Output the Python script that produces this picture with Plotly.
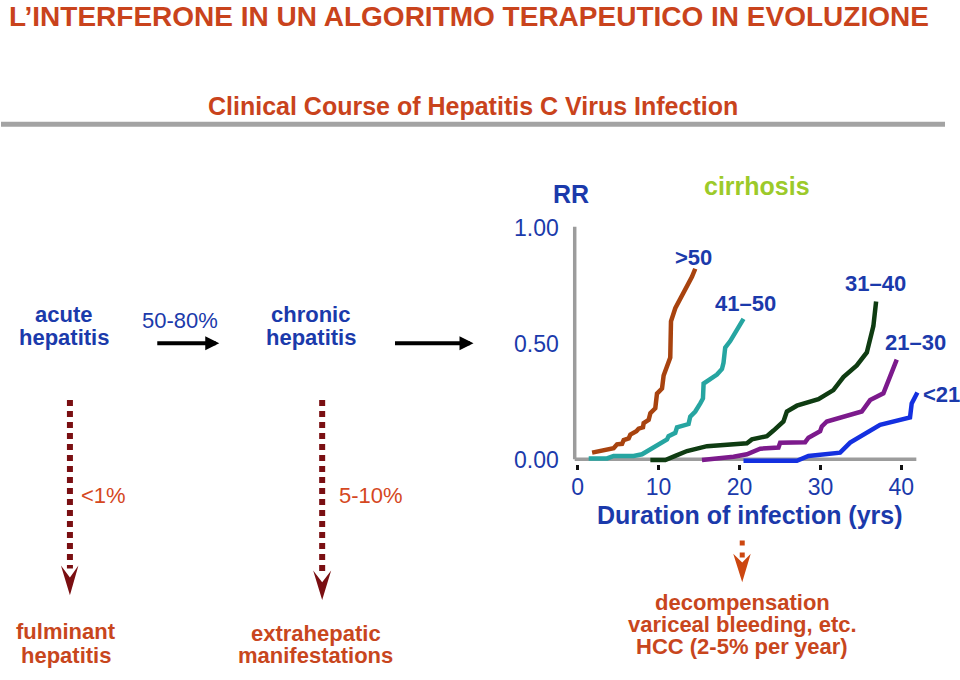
import plotly.graph_objects as go

W, H = 960, 680

# ---------------- data ----------------
year_ticks = [0, 10, 20, 30, 40]
rr_ticks = [0.0, 0.5, 1.0]
rr_tick_text = ["0.00", "0.50", "1.00"]

gt50_years = [1.78, 4.44, 4.86, 5.48, 5.68, 6.30, 6.51, 7.25, 7.53, 8.07, 8.15, 8.77, 8.98, 9.59, 9.80,
              10.42, 10.62, 10.95, 11.44, 11.53, 12.06, 14.12, 14.53]
gt50_rr = [0.028, 0.047, 0.064, 0.066, 0.082, 0.089, 0.106, 0.120, 0.131, 0.137, 0.155, 0.169, 0.198, 0.219,
           0.282, 0.304, 0.360, 0.388, 0.437, 0.593, 0.649, 0.784, 0.819]

a41_50_years = [1.36, 3.63, 4.44, 6.91, 7.95, 8.64, 9.19, 10.21, 11.04, 11.23, 12.06, 12.27, 13.70, 13.91,
                14.53, 15.15, 15.48, 15.56, 16.59, 17.21, 17.83, 18.02, 18.23, 18.85, 20.49]
a41_50_rr = [0.003, 0.003, 0.014, 0.014, 0.021, 0.035, 0.049, 0.071, 0.085, 0.099, 0.113, 0.137, 0.151, 0.183,
             0.205, 0.240, 0.261, 0.325, 0.353, 0.364, 0.388, 0.414, 0.480, 0.508, 0.603]

a31_40_years = [8.98, 10.83, 12.06, 13.51, 15.98, 18.44, 20.91, 21.53, 23.38, 24.20, 25.43, 25.85, 27.09,
                29.75, 31.60, 32.84, 34.49, 35.73, 36.54, 36.88]
a31_40_rr = [-0.004, -0.004, 0.014, 0.035, 0.056, 0.064, 0.068, 0.085, 0.099, 0.123, 0.162, 0.205, 0.230,
             0.258, 0.297, 0.353, 0.403, 0.459, 0.572, 0.678]

a21_30_years = [15.36, 19.26, 20.91, 22.56, 24.81, 25.02, 28.11, 28.52, 29.96, 30.17, 30.79, 35.11, 36.14,
                37.78, 39.43]
a21_30_rr = [-0.004, 0.010, 0.021, 0.045, 0.050, 0.071, 0.073, 0.092, 0.120, 0.141, 0.162, 0.205, 0.254,
             0.283, 0.428]

lt21_years = [20.49, 27.09, 28.52, 32.43, 33.67, 37.37, 41.07, 41.28, 41.98]
lt21_rr = [-0.007, -0.007, 0.014, 0.028, 0.071, 0.148, 0.179, 0.240, 0.287]

series_names = [">50", "41–50", "31–40", "21–30", "<21"]
series_years = [gt50_years, a41_50_years, a31_40_years, a21_30_years, lt21_years]
series_rr = [gt50_rr, a41_50_rr, a31_40_rr, a21_30_rr, lt21_rr]
series_colors = ["#a8430f", "#26a5a1", "#0f3c12", "#7c1a8c", "#1430e0"]

# ---------------- styling helpers ----------------
FONT = "Liberation Sans, Arial, Helvetica, sans-serif"
BLUE = "#1b3aab"
TITLE_RED = "#c9431c"
ORANGE_TXT = "#c8461d"
PCT_RED = "#d5481f"
DARK_RED = "#7a0f12"
ARROW_ORANGE = "#cc4710"
GREEN_Y = "#9cca2a"
GRAY = "#9c9c9c"


def fx(px):
    return px / W


def fy(py):
    return 1 - py / H


def path(points):
    return "M " + " L ".join(f"{fx(x):.5f},{fy(y):.5f}" for x, y in points) + " Z"


fig = go.Figure()

for name, xs, ys, col in zip(series_names, series_years, series_rr, series_colors):
    fig.add_trace(go.Scatter(x=xs, y=ys, mode="lines", name=name,
                             line=dict(color=col, width=4.5), hoverinfo="skip"))

# main chart axes (pixel mapping: x = 577.3 + 8.1*yr, y = 465 - 236*rr)
x_lo, x_hi = (572 - 577.3) / 8.1, (922 - 577.3) / 8.1
y_lo, y_hi = (465 - 470) / 236, (465 - 218) / 236

fig.update_layout(
    width=W, height=H,
    margin=dict(l=0, r=0, t=0, b=0),
    paper_bgcolor="white", plot_bgcolor="rgba(0,0,0,0)",
    showlegend=False,
    font=dict(family=FONT),
    xaxis=dict(domain=[fx(572), fx(922)], range=[x_lo, x_hi], showgrid=False, zeroline=False,
               showline=False, tickvals=year_ticks, ticks="outside", ticklen=5, tickwidth=3,
               tickcolor="#111", tickfont=dict(size=23, color=BLUE, family=FONT),
               ticklabelstandoff=-3, fixedrange=True),
    yaxis=dict(domain=[fy(470), fy(218)], range=[y_lo, y_hi], showgrid=False, zeroline=False,
               showline=False, tickvals=rr_ticks, ticktext=rr_tick_text, ticks="outside", ticklen=8,
               tickcolor="rgba(0,0,0,0)", tickfont=dict(size=23, color=BLUE, family=FONT),
               ticklabelshift=1, fixedrange=True),
)

shapes = []
# axis lines of the small chart
shapes.append(dict(type="line", xref="x", yref="y", x0=(574.3 - 577.3) / 8.1, x1=(574.3 - 577.3) / 8.1,
                   y0=0, y1=1.0, line=dict(color=GRAY, width=3.5), layer="below"))
shapes.append(dict(type="line", xref="x", yref="y", x0=(574.3 - 577.3) / 8.1, x1=41.85,
                   y0=0, y1=0, line=dict(color=GRAY, width=3.5), layer="below"))
# header rule
shapes.append(dict(type="line", xref="paper", yref="paper", x0=fx(0), x1=fx(945), y0=fy(125), y1=fy(125),
                   line=dict(color="#a3a3a3", width=5)))
# dotted dark red arrows
for cx, y0, y1, head in [(69, 405, 576, [(60, 573), (69, 585), (77.5, 573), (69, 603)]),
                         (321.5, 405, 581, [(312.5, 578), (321.5, 590), (330.5, 578), (321.5, 608)])]:
    shapes.append(dict(type="line", xref="paper", yref="paper", x0=fx(cx), x1=fx(cx), y0=fy(y0), y1=fy(y1),
                       line=dict(color=DARK_RED, width=6, dash="6px,5px")))
    shapes.append(dict(type="path", xref="paper", yref="paper", path=path(head),
                       fillcolor=DARK_RED, line=dict(width=0)))
# small orange arrow below the chart
shapes.append(dict(type="line", xref="paper", yref="paper", x0=fx(742), x1=fx(742), y0=fy(547.5), y1=fy(565),
                   line=dict(color=ARROW_ORANGE, width=5, dash="5px,7px")))
shapes.append(dict(type="path", xref="paper", yref="paper",
                   path=path([(733, 561), (742, 570), (750.5, 561), (742, 590)]),
                   fillcolor=ARROW_ORANGE, line=dict(width=0)))
fig.update_layout(shapes=shapes)

ann = []


def text(t, x, y, size, color, bold=False, xanchor="center"):
    ann.append(dict(text=f"<b>{t}</b>" if bold else t, x=fx(x), y=fy(y), xref="paper", yref="paper",
                    xanchor=xanchor, yanchor="middle", showarrow=False, borderpad=0,
                    font=dict(size=size, color=color, family=FONT)))


text("L’INTERFERONE IN UN ALGORITMO TERAPEUTICO IN EVOLUZIONE", 7, 16, 28, TITLE_RED, True, "left")
text("Clinical Course of Hepatitis C Virus Infection", 472, 107, 25, TITLE_RED, True)

text("acute", 63, 318, 22, BLUE, True)
text("hepatitis", 63, 342, 22, BLUE, True)
text("50-80%", 179, 324, 22, BLUE)
text("chronic", 310, 318, 22, BLUE, True)
text("hepatitis", 310, 342, 22, BLUE, True)

text("&lt;1%", 102.5, 501.5, 22, PCT_RED)
text("5-10%", 370, 501.5, 22, PCT_RED)

text("fulminant", 65, 640, 22, ORANGE_TXT, True)
text("hepatitis", 65, 664.5, 22, ORANGE_TXT, True)
text("extrahepatic", 315, 641.5, 22, ORANGE_TXT, True)
text("manifestations", 315, 664.5, 22, ORANGE_TXT, True)
text("decompensation", 742, 610.5, 22, ORANGE_TXT, True)
text("variceal bleeding, etc.", 742, 633, 22, ORANGE_TXT, True)
text("HCC (2-5% per year)", 742, 655.5, 22, ORANGE_TXT, True)

text("RR", 571, 196, 25, BLUE, True)
text("cirrhosis", 757, 188, 25, GREEN_Y, True)
text("Duration of infection (yrs)", 750, 522, 25, BLUE, True)

for name, (lx, ly) in zip(series_names, [(693, 260), (745.5, 307), (875, 287), (915, 347), (941, 399)]):
    text(name.replace("<", "&lt;").replace(">", "&gt;"), lx, ly, 22, BLUE, True)

# black flow arrows
for x0, x1 in [(155, 218.5), (393, 473)]:
    ann.append(dict(text="", x=fx(x1), y=fy(347.3), xref="paper", yref="paper",
                    ax=-(x1 - x0), ay=0, axref="pixel", ayref="pixel", showarrow=True,
                    arrowhead=2, arrowsize=0.7, arrowwidth=4, arrowcolor="#000", standoff=0,
                    startstandoff=0))

fig.update_layout(annotations=ann)

POST = """
document.body.style.margin='0';
document.body.style.padding='0';
document.body.style.overflow='hidden';
"""

fig.write_html("out.html", config={"displayModeBar": False}, post_script=POST)
